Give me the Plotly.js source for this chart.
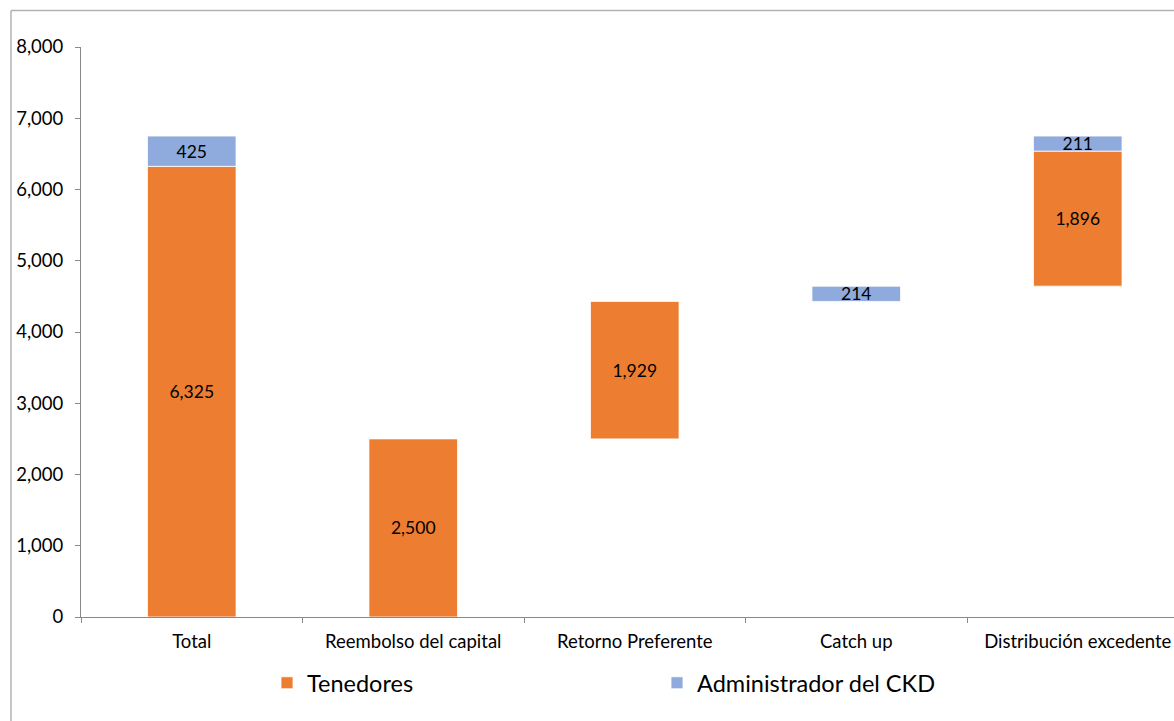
<!DOCTYPE html>
<html>
<head>
<meta charset="utf-8">
<script src="https://cdn.plot.ly/plotly-3.0.1.min.js"></script>
<style>
  html, body { margin: 0; padding: 0; background: #fff; overflow: hidden; }
  #chart { width: 1174px; height: 721px; }
</style>
</head>
<body>
<div id="chart"></div>
<script>
const categories = ["Total", "Reembolso del capital", "Retorno Preferente", "Catch up", "Distribución excedente"];
const tenedoresValues = [6325, 2500, 1929, 0, 1896];
const adminValues = [425, 0, 0, 214, 211];
const seriesNames = ["Tenedores", "Administrador del CKD"];
const tickValues = [0, 1000, 2000, 3000, 4000, 5000, 6000, 7000, 8000];

// Waterfall bases: the first category is the total (stacked from 0);
// the remaining steps accumulate from 0.
const tenBase = [0], admBase = [tenedoresValues[0]];
let running = 0;
for (let i = 1; i < categories.length; i++) {
  tenBase[i] = running;
  running += tenedoresValues[i];
  admBase[i] = running;
  running += adminValues[i];
}

const fmt = v => v ? v.toLocaleString("en-US") : "";
const font = "Lato, 'Open Sans', sans-serif";

const traces = [
  {
    type: "bar",
    name: seriesNames[0],
    x: categories,
    y: tenedoresValues.map(v => v || null),
    base: tenBase,
    width: 0.4,
    marker: { color: "#ED7D31", line: { color: "#ffffff", width: 0.8 } },
    text: tenedoresValues.map(fmt),
    textposition: "inside",
    insidetextanchor: "middle",
    constraintext: "none",
    textfont: { family: font, size: 17.5, color: "#000" },
    hoverinfo: "skip"
  },
  {
    type: "bar",
    name: seriesNames[1],
    x: categories,
    y: adminValues.map(v => v || null),
    base: admBase,
    width: 0.4,
    marker: { color: "#8FAADC", line: { color: "#ffffff", width: 0.8 } },
    text: adminValues.map(fmt),
    textposition: "inside",
    insidetextanchor: "middle",
    constraintext: "none",
    textfont: { family: font, size: 17.5, color: "#000" },
    hoverinfo: "skip"
  }
];

const L = 81, T = 47, B = 104, W = 1174, H = 721;
const plotW = W - L, plotH = H - T - B;
const catPx = 221.5;

const layout = {
  width: W, height: H,
  margin: { l: L, r: 0, t: T, b: B, pad: 0 },
  paper_bgcolor: "#fff",
  plot_bgcolor: "#fff",
  barmode: "overlay",
  showlegend: true,
  font: { family: font, color: "#000" },
  xaxis: {
    type: "category",
    range: [-0.5, -0.5 + plotW / catPx],
    showline: true, linecolor: "#898989", linewidth: 1,
    ticks: "outside", tickson: "boundaries", ticklen: 5, tickcolor: "#898989",
    tickfont: { family: font, size: 18.5, color: "#000" },
    ticklabelstandoff: 8,
    showgrid: false, zeroline: false, fixedrange: true
  },
  yaxis: {
    range: [0, 8000],
    tickvals: tickValues,
    tickformat: ",",
    showline: true, linecolor: "#898989", linewidth: 1,
    ticks: "outside", ticklen: 5, tickcolor: "#898989",
    tickfont: { family: font, size: 18.5, color: "#000" },
    ticklabelstandoff: 8,
    showgrid: false, zeroline: false, fixedrange: true
  },
  legend: {
    orientation: "h",
    x: (267 - L) / plotW, xanchor: "left",
    y: (T + plotH - 683) / plotH, yanchor: "middle",
    font: { family: font, size: 23.5, color: "#000" },
    entrywidth: 345, entrywidthmode: "pixels",
    itemwidth: 30,
    traceorder: "normal",
    bgcolor: "rgba(0,0,0,0)", borderwidth: 0
  },
  shapes: [
    { type: "line", xref: "paper", yref: "paper",
      x0: (11 - L) / plotW, x1: 1.05, y0: (T + plotH - 10.5) / plotH, y1: (T + plotH - 10.5) / plotH,
      line: { color: "#b3b3b3", width: 1.5 } },
    { type: "line", xref: "paper", yref: "paper",
      x0: (11 - L) / plotW, x1: (11 - L) / plotW, y0: (T + plotH - 10.5) / plotH, y1: -0.3,
      line: { color: "#b3b3b3", width: 1.5 } }
  ]
};

Plotly.newPlot("chart", traces, layout, { displayModeBar: false, staticPlot: true });
</script>
</body>
</html>
